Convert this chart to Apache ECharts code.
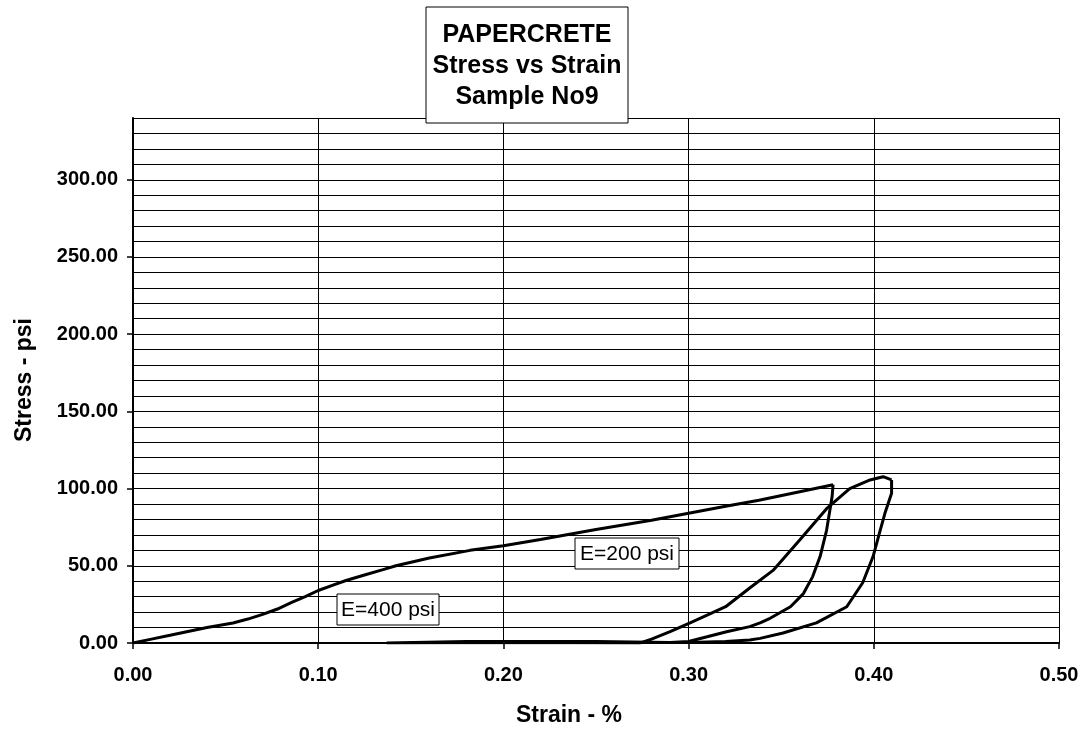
<!DOCTYPE html>
<html>
<head>
<meta charset="utf-8">
<script src="https://cdn.jsdelivr.net/npm/echarts@6/dist/echarts.min.js"></script>
<style>html,body{margin:0;padding:0;background:#fff}#c{width:1086px;height:740px}</style>
</head>
<body>
<div id="c"></div>
<script>
// Data: [strain %, stress psi]
var loading1 = [[0,0],[0.01,2.5],[0.02,5],[0.029,7.3],[0.04,10],[0.054,13],[0.062,15.5],[0.07,18.5],[0.078,22],[0.086,26.5],[0.093,30],[0.1,34],[0.108,37.5],[0.115,40.5],[0.125,44],[0.135,47.5],[0.142,50],[0.16,55],[0.182,60],[0.2,63],[0.22,67],[0.25,73.5],[0.28,79.5],[0.3,84],[0.32,88.5],[0.338,92.5],[0.36,98],[0.378,102.5]];
var unloading1 = [[0.378,102.5],[0.3775,95],[0.3769,90.5],[0.3745,73],[0.371,56],[0.367,43],[0.362,32],[0.355,23.5],[0.344,16],[0.3386,13],[0.333,10.6],[0.3205,7.3],[0.31,4],[0.3,1],[0.29,0.3]];
var baseline = [[0.29,0.3],[0.25,1],[0.18,1],[0.137,0],[0.2,0.3],[0.274,0]];
var reloading2 = [[0.274,0],[0.28,2.5],[0.29,7.3],[0.3008,13],[0.31,18],[0.32,23.5],[0.333,35.6],[0.3456,47],[0.36,66.7],[0.3745,87],[0.387,100],[0.398,105.6],[0.405,107.7],[0.4096,105.6]];
var unloading2 = [[0.4096,105.6],[0.4096,97],[0.406,84],[0.403,71],[0.3996,56],[0.394,39],[0.3854,23.5],[0.369,13],[0.351,6.5],[0.3386,3],[0.333,2],[0.32,1],[0.3,0.3]];
var yTickLabels = [0,50,100,150,200,250,300];
var xTickLabels = [0,0.1,0.2,0.3,0.4,0.5];
var titleLines = ['PAPERCRETE','Stress vs Strain','Sample No9'];
var notes = ['E=200 psi','E=400 psi'];
var axisNames = ['Strain - %','Stress - psi'];

var chart = echarts.init(document.getElementById('c'), null, {renderer:'canvas'});
var FONT = 'Arial, "Liberation Sans", sans-serif';
var lineStyle = {color:'#000', width:3};
function mk(d){ return {type:'line', data:d, showSymbol:false, symbol:'none', lineStyle:lineStyle, animation:false, z:5, xAxisIndex:0, yAxisIndex:0}; }

chart.setOption({
  animation:false,
  backgroundColor:'#fff',
  grid:{left:133, right:27, top:118, bottom:97, containLabel:false},
  xAxis:{
    type:'value', min:0, max:0.5, interval:0.1,
    axisLine:{show:true, onZero:false, lineStyle:{color:'#000', width:2}},
    axisTick:{show:true, length:6, lineStyle:{color:'#000', width:1.5}},
    axisLabel:{formatter:function(v){return v.toFixed(2);}, color:'#000', fontFamily:FONT, fontWeight:'bold', fontSize:20, margin:22},
    splitLine:{show:true, lineStyle:{color:'#000', width:1}}
  },
  yAxis:[{
    type:'value', min:0, max:340, interval:10,
    axisLine:{show:true, onZero:false, lineStyle:{color:'#000', width:2}},
    axisTick:{show:false},
    axisLabel:{show:false},
    splitLine:{show:true, lineStyle:{color:'#000', width:1}}
  },{
    type:'value', min:0, max:340, interval:10, position:'left',
    axisLine:{show:false},
    axisTick:{show:true, length:6, customValues:yTickLabels, lineStyle:{color:'#000', width:1.5}},
    axisLabel:{customValues:yTickLabels, formatter:function(v){return v.toFixed(2);}, color:'#000', fontFamily:FONT, fontWeight:'bold', fontSize:20, margin:15},
    splitLine:{show:false}
  }],
  series:[mk(loading1), mk(unloading1), mk(baseline), mk(reloading2), mk(unloading2)],
  graphic:[
    {type:'rect', shape:{x:426, y:7, width:202, height:116}, style:{fill:'#fff', stroke:'#000', lineWidth:1}, z:100},
    {type:'text', x:527, y:66, style:{text:titleLines.join('\n'), font:'bold 25px '+FONT, fill:'#000', align:'center', verticalAlign:'middle', lineHeight:31}, z:101},
    {type:'rect', shape:{x:575, y:538, width:104, height:31}, style:{fill:'#fff', stroke:'#000', lineWidth:1}, z:100},
    {type:'text', x:627, y:554, style:{text:notes[0], font:'21px '+FONT, fill:'#000', align:'center', verticalAlign:'middle'}, z:101},
    {type:'rect', shape:{x:337, y:594, width:102, height:31}, style:{fill:'#fff', stroke:'#000', lineWidth:1}, z:100},
    {type:'text', x:388, y:610, style:{text:notes[1], font:'21px '+FONT, fill:'#000', align:'center', verticalAlign:'middle'}, z:101},
    {type:'text', x:569, y:716, style:{text:axisNames[0], font:'bold 23px '+FONT, fill:'#000', align:'center', verticalAlign:'middle'}, z:101},
    {type:'text', x:25, y:380, rotation:Math.PI/2, style:{text:axisNames[1], font:'bold 23px '+FONT, fill:'#000', align:'center', verticalAlign:'middle'}, z:101}
  ]
});
</script>
</body>
</html>
